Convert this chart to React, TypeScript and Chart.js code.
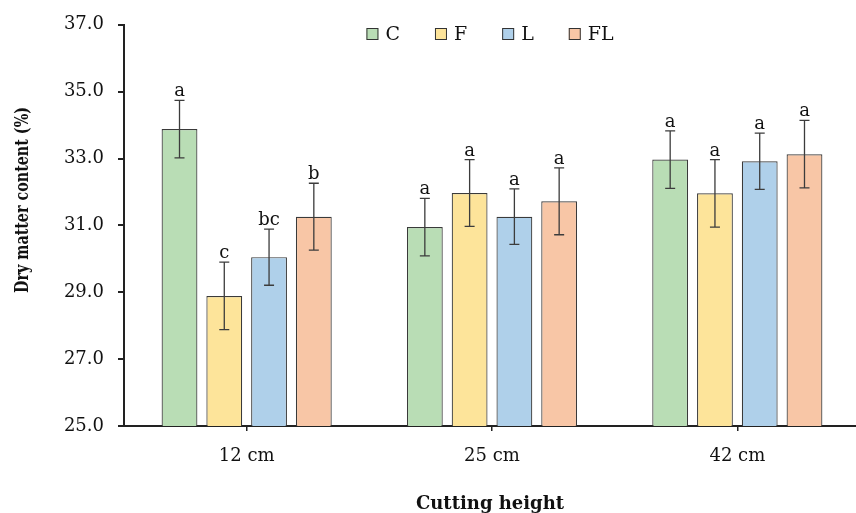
import React, { useEffect, useRef } from 'react';
import { Chart, registerables } from 'chart.js';

Chart.register(...registerables);

const categories = ['12 cm', '25 cm', '42 cm'];
const seriesNames = ['C', 'F', 'L', 'FL'];
const valuesC = [33.88, 30.95, 32.97];
const valuesF = [28.89, 31.97, 31.96];
const valuesL = [30.05, 31.26, 32.92];
const valuesFL = [31.26, 31.72, 33.13];
const errC = [0.86, 0.86, 0.86];
const errF = [1.01, 1.0, 1.01];
const errL = [0.84, 0.83, 0.84];
const errFL = [1.0, 1.0, 1.01];
const lettersC = ['a', 'a', 'a'];
const lettersF = ['c', 'a', 'a'];
const lettersL = ['bc', 'a', 'a'];
const lettersFL = ['b', 'a', 'a'];
const yMin = 25;
const yMax = 37;
const yStep = 2;
const xTitle = 'Cutting height';
const yTitle = 'Dry matter content (%)';

const colors = ['#B9DDB5', '#FDE49A', '#AFD0EA', '#F8C6A6'];
const FONT = '"DejaVu Serif", serif';

export default function App() {
  const ref = useRef<HTMLCanvasElement>(null);
  useEffect(() => {
    const canvas = ref.current!;
    const values = [valuesC, valuesF, valuesL, valuesFL];
    const errs = [errC, errF, errL, errFL];
    const letters = [lettersC, lettersF, lettersL, lettersFL];

    const extras = {
      id: 'extras',
      afterDatasetsDraw(chart: any) {
        const ctx = chart.ctx;
        const y = chart.scales.y;
        ctx.save();
        chart.data.datasets.forEach((ds: any, i: number) => {
          const meta = chart.getDatasetMeta(i);
          meta.data.forEach((bar: any, j: number) => {
            const v = values[i][j];
            const e = errs[i][j];
            const x = bar.x;
            const yt = y.getPixelForValue(v + e);
            const yb = y.getPixelForValue(v - e);
            ctx.strokeStyle = '#3c3c3c';
            ctx.lineWidth = 1.3;
            ctx.beginPath();
            ctx.moveTo(x, yt);
            ctx.lineTo(x, yb);
            ctx.moveTo(x - 5, yt);
            ctx.lineTo(x + 5, yt);
            ctx.moveTo(x - 5, yb);
            ctx.lineTo(x + 5, yb);
            ctx.stroke();
            ctx.fillStyle = '#111';
            ctx.font = `18px ${FONT}`;
            ctx.textAlign = 'center';
            ctx.textBaseline = 'alphabetic';
            ctx.fillText(letters[i][j], x, yt - 4);
          });
        });
        ctx.restore();
      },
      afterDraw(chart: any) {
        const ctx = chart.ctx;
        const area = chart.chartArea;
        ctx.save();
        // legend
        ctx.font = `19px ${FONT}`;
        const box = 12;
        const gapText = 7;
        const gapItem = 35;
        const widths = chart.data.datasets.map((d: any) => box + gapText + ctx.measureText(d.label).width);
        const total = widths.reduce((a: number, b: number) => a + b, 0) + gapItem * (widths.length - 1);
        let lx = (area.left + area.right) / 2 - 2 - total / 2;
        const ly = 34;
        chart.data.datasets.forEach((d: any, i: number) => {
          ctx.fillStyle = d.backgroundColor;
          ctx.fillRect(lx, ly - box / 2, box, box);
          ctx.strokeStyle = '#333';
          ctx.lineWidth = 1;
          ctx.strokeRect(lx + 0.5, ly - box / 2 + 0.5, box - 1, box - 1);
          ctx.fillStyle = '#111';
          ctx.textAlign = 'left';
          ctx.textBaseline = 'middle';
          ctx.fillText(d.label, lx + box + gapText, ly + 1);
          lx += widths[i] + gapItem;
        });
        // x title
        ctx.font = `bold 18px ${FONT}`;
        ctx.textAlign = 'center';
        ctx.textBaseline = 'alphabetic';
        ctx.fillStyle = '#111';
        ctx.fillText(xTitle, 490, 509);
        // y title
        ctx.translate(23, 200);
        ctx.rotate(-Math.PI / 2);
        ctx.font = `bold 19px ${FONT}`;
        const w = ctx.measureText(yTitle).width;
        const s = 186 / w;
        ctx.scale(s, 1);
        ctx.textBaseline = 'middle';
        ctx.fillText(yTitle, 0, 0);
        ctx.restore();
      },
    };

    const chart = new Chart(canvas, {
      type: 'bar',
      data: {
        labels: categories,
        datasets: seriesNames.map((name, i) => ({
          label: name,
          data: values[i],
          backgroundColor: colors[i],
          borderColor: '#3a3a3a',
          borderWidth: 1.2,
          barPercentage: 0.8,
          categoryPercentage: 0.73,
        })),
      },
      options: {
        responsive: false,
        animation: false,
        devicePixelRatio: 1,
        layout: { padding: { left: 0, right: 0, top: 24, bottom: 0 } },
        plugins: {
          legend: { display: false },
          tooltip: { enabled: false },
          title: { display: false },
        },
        scales: {
          x: {
            type: 'category',
            offset: true,
            grid: {
              offset: false,
              drawOnChartArea: false,
              drawTicks: true,
              tickLength: 5,
              color: '#222',
              lineWidth: 1.5,
            },
            border: { display: true, color: '#222', width: 2 },
            ticks: {
              color: '#111',
              font: { family: FONT, size: 18 },
              padding: 15,
              maxRotation: 0,
            },
            afterFit(scale: any) {
              scale.height = 87;
            },
          },
          y: {
            type: 'linear',
            min: yMin,
            max: yMax,
            grid: {
              drawOnChartArea: false,
              drawTicks: true,
              tickLength: 6,
              color: '#222',
              lineWidth: 2,
            },
            border: { display: true, color: '#222', width: 2 },
            ticks: {
              stepSize: yStep,
              color: '#111',
              font: { family: FONT, size: 18 },
              padding: 14,
              callback: (v: any) => Number(v).toFixed(1),
            },
            afterFit(scale: any) {
              scale.width = 124;
            },
          },
        },
      },
      plugins: [extras],
    } as any);
    return () => chart.destroy();
  }, []);

  return (
    <div
      style={{
        position: 'fixed',
        left: 0,
        top: 0,
        width: 856,
        height: 513,
        overflow: 'hidden',
        background: '#fff',
      }}
    >
      <canvas ref={ref} width={860} height={513} style={{ display: 'block', width: 860, height: 513 }} />
    </div>
  );
}
